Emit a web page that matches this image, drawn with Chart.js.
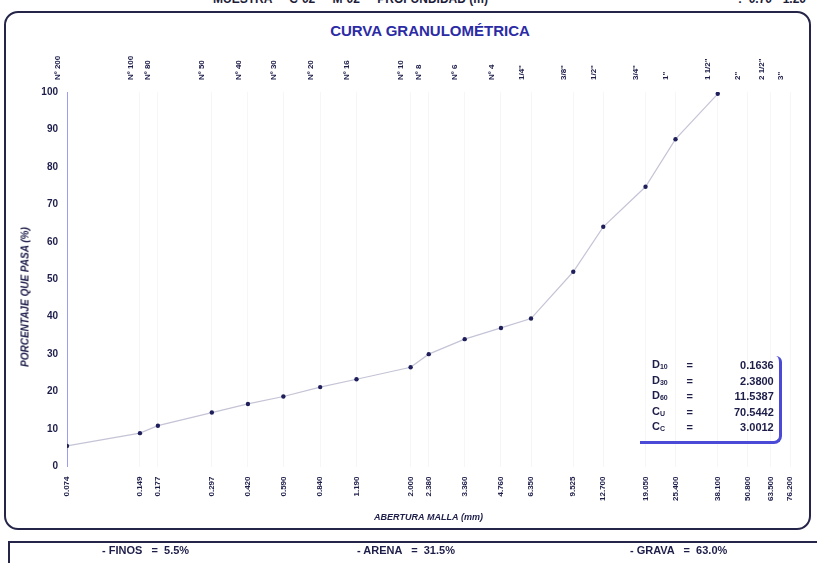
<!DOCTYPE html>
<html>
<head>
<meta charset="utf-8">
<script src="https://cdn.jsdelivr.net/npm/chart.js@4.4.1/dist/chart.umd.min.js"></script>
<style>
  html, body { margin: 0; padding: 0; background: #fff; }
  body { width: 817px; height: 563px; position: relative; overflow: hidden;
         font-family: "Liberation Sans Narrow", "Liberation Sans", Arial, sans-serif; color: #1d1d4a; }
  #chart { position: absolute; left: 0; top: 0; }
  .frame { position: absolute; left: 4px; top: 11px; width: 807px; height: 519px;
           border: 2px solid #25254a; border-radius: 14px; box-sizing: border-box; }
  .header { position: absolute; top: -8px; font-weight: bold; font-size: 12px; white-space: pre; color: #1d1d3a; }
  .title { position: absolute; left: 0; width: 860px; top: 22px; text-align: center;
           font-weight: bold; font-size: 15px; color: #2b2ba6; }
  .ytitle { position: absolute; left: 25px; top: 297px; transform: translate(-50%, -50%) rotate(-90deg);
            font-weight: bold; font-style: italic; font-size: 10px; white-space: nowrap; color: #1d1d4a; }
  .dbox { position: absolute; left: 640px; top: 356px; width: 142px; height: 88px;
          border-right: 3px solid #4a4ad6; border-bottom: 3px solid #4a4ad6;
          border-bottom-right-radius: 8px; border-top-right-radius: 6px; box-sizing: border-box; }
  .dbox table { position: absolute; left: 12px; top: 2px; border-collapse: collapse; font-size: 11px; font-weight: bold; }
  .dbox td { padding: 0; height: 13.5px; line-height: 13.5px; }
  .dbox td.eq { width: 44px; text-align: center; }
  .dbox td.val { width: 62px; text-align: right; }
  .dbox sub { font-size: 7px; vertical-align: -1px; }
  .summary { position: absolute; left: 8px; top: 541px; width: 830px; height: 40px;
             border: 2px solid #25254a; box-sizing: border-box; }
  .summary span { position: absolute; top: 1px; font-weight: bold; font-size: 11px; white-space: pre; }
</style>
</head>
<body>
<div class="header" style="left:213px">MUESTRA  -  C-02  -  M-02  -  PROFUNDIDAD (m)</div>
<div class="header" style="left:738px">:  0.70 - 1.20</div>
<div class="frame"></div>
<div class="title">CURVA GRANULOMÉTRICA</div>
<canvas id="chart" width="817" height="563"></canvas>
<div class="ytitle">PORCENTAJE QUE PASA (%)</div>
<div class="dbox">
  <table id="dtable"></table>
</div>
<div class="summary">
  <span id="finos" style="left:92px"></span>
  <span id="arena" style="left:347px"></span>
  <span id="grava" style="left:620px"></span>
</div>
<script>
// Sieve openings (mm) and their designations
const sieveMm = [0.074, 0.149, 0.177, 0.297, 0.420, 0.590, 0.840, 1.190, 2.000, 2.380,
                 3.360, 4.760, 6.350, 9.525, 12.700, 19.050, 25.400, 38.100, 50.800, 63.500, 76.200];
const sieveNames = ['Nº 200', 'Nº 100', 'Nº 80', 'Nº 50', 'Nº 40', 'Nº 30', 'Nº 20', 'Nº 16', 'Nº 10', 'Nº 8',
                    'Nº 6', 'Nº 4', '1/4"', '3/8"', '1/2"', '3/4"', '1"', '1 1/2"', '2"', '2 1/2"', '3"'];
const mmLabels = ['0.074', '0.149', '0.177', '0.297', '0.420', '0.590', '0.840', '1.190', '2.000', '2.380',
                  '3.360', '4.760', '6.350', '9.525', '12.700', '19.050', '25.400', '38.100', '50.800', '63.500', '76.200'];
// Percentage passing for each sieve (last sieves not tested)
const percentPassing = [5.5, 8.9, 10.9, 14.4, 16.7, 18.7, 21.2, 23.3, 26.5, 30.0,
                        34.0, 37.0, 39.5, 52.0, 64.0, 74.7, 87.4, 99.5, null, null, null];
const yTicks = [0, 10, 20, 30, 40, 50, 60, 70, 80, 90, 100];

// Gradation parameters
const coefNames = ['D<sub>10</sub>', 'D<sub>30</sub>', 'D<sub>60</sub>', 'C<sub>U</sub>', 'C<sub>C</sub>'];
const coefValues = ['0.1636', '2.3800', '11.5387', '70.5442', '3.0012'];
// Soil fractions (%)
const fractionNames = ['FINOS', 'ARENA', 'GRAVA'];
const fractionValues = [5.5, 31.5, 63.0];

const dtable = document.getElementById('dtable');
coefNames.forEach((n, i) => {
  const tr = document.createElement('tr');
  tr.innerHTML = '<td>' + n + '</td><td class="eq">=</td><td class="val">' + coefValues[i] + '</td>';
  dtable.appendChild(tr);
});
['finos', 'arena', 'grava'].forEach((id, i) => {
  document.getElementById(id).textContent = '- ' + fractionNames[i] + '   =  ' + fractionValues[i].toFixed(1) + '%';
});

const points = sieveMm.map((x, i) => ({ x: x, y: percentPassing[i] })).filter(p => p.y !== null);

const FONT = '"Liberation Sans Narrow", "Liberation Sans", Arial, sans-serif';
const INK = '#1d1d4a';
const CHART_TOP = 92, CHART_BOTTOM = 466.5, CHART_LEFT = 67, CHART_RIGHT = 790;

function sieveTicks(scale) {
  scale.ticks = sieveMm.map(v => ({ value: v }));
}

new Chart(document.getElementById('chart'), {
  type: 'scatter',
  data: {
    datasets: [{
      data: points,
      showLine: true,
      borderColor: '#c4c4d6',
      borderWidth: 1.2,
      pointRadius: 2.2,
      pointBackgroundColor: '#1f1f5c',
      pointBorderColor: '#1f1f5c',
      pointBorderWidth: 0,
      tension: 0,
      xAxisID: 'x',
      yAxisID: 'y'
    }]
  },
  options: {
    responsive: false,
    devicePixelRatio: 1,
    animation: false,
    layout: { padding: { left: 0, right: 817 - CHART_RIGHT, top: 0, bottom: 0 } },
    plugins: { legend: { display: false }, tooltip: { enabled: false } },
    scales: {
      x: {
        type: 'logarithmic', position: 'bottom', min: sieveMm[0], max: sieveMm[sieveMm.length - 1],
        afterBuildTicks: sieveTicks,
        afterFit: s => { s.height = 563 - CHART_BOTTOM; },
        ticks: {
          autoSkip: false, minRotation: 90, maxRotation: 90, padding: 10,
          color: INK, font: { family: FONT, size: 8, weight: 'bold' },
          callback: (v, i) => mmLabels[i]
        },
        grid: { display: true, drawTicks: false, color: 'rgba(0,0,0,0.035)' },
        border: { display: false },
        title: { display: true, text: 'ABERTURA MALLA (mm)', color: INK,
                 font: { family: FONT, size: 9, weight: 'bold', style: 'italic' }, padding: { bottom: 40 } }
      },
      x2: {
        type: 'logarithmic', position: 'top', min: sieveMm[0], max: sieveMm[sieveMm.length - 1],
        afterBuildTicks: sieveTicks,
        afterFit: s => { s.height = CHART_TOP; },
        ticks: {
          autoSkip: false, minRotation: 90, maxRotation: 90, padding: 12,
          color: INK, font: { family: FONT, size: 8, weight: 'bold' },
          callback: (v, i) => sieveNames[i]
        },
        grid: { display: false, drawTicks: false },
        border: { display: false }
      },
      y: {
        min: 0, max: 100,
        afterBuildTicks: s => { s.ticks = yTicks.map(v => ({ value: v })); },
        afterFit: s => { s.width = CHART_LEFT; },
        ticks: { padding: 9, color: INK, font: { family: FONT, size: 10, weight: 'bold' } },
        grid: { display: false, drawTicks: false },
        border: { display: true, color: '#9c9cf0', width: 1 }
      }
    }
  }
});
</script>
</body>
</html>
